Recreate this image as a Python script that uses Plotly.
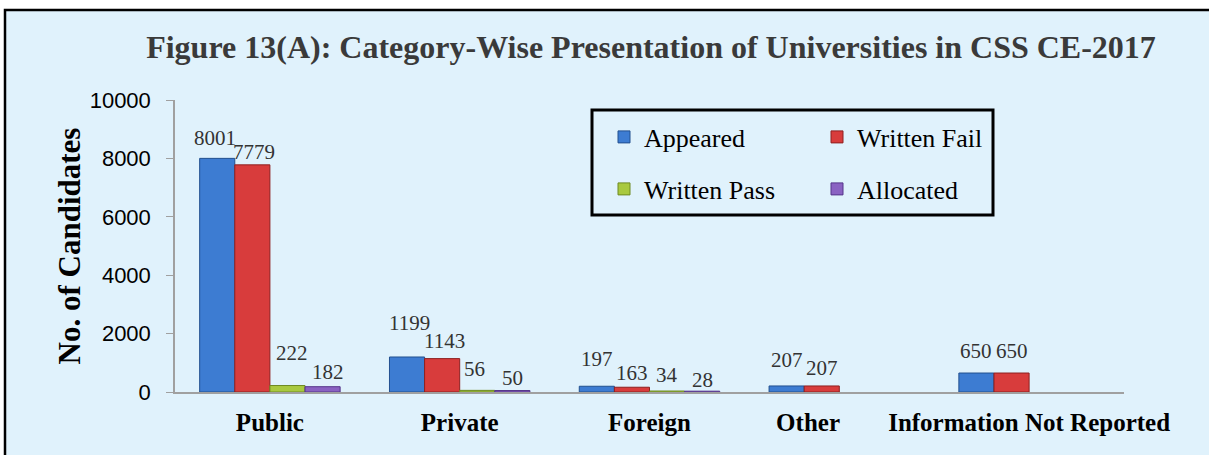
import plotly.graph_objects as go

categories = ["Public", "Private", "Foreign", "Other", "Information Not Reported"]
appeared = [8001, 1199, 197, 207, 650]
written_fail = [7779, 1143, 163, 207, 650]
written_pass = [222, 56, 34, 0, 0]
allocated = [182, 50, 28, 0, 0]
y_ticks = [0, 2000, 4000, 6000, 8000, 10000]

# extra vertical lift (px) of each value label, as staggered in the original
label_lift = {
    "Appeared": [9, 23, 16, 15, 11],
    "Written Fail": [2, 7, 3, 7, 11],
    "Written Pass": [22, 10, 5, 0, 0],
    "Allocated": [4, 2, 0, 0, 0],
}
label_xshift = {
    "Appeared": [-2, 2, 0, 0, 0],
    "Written Fail": [2, 2, 0, 0, 0],
    "Written Pass": [5, -3, 0, 0, 0],
    "Allocated": [5, 0, 0, 0, 0],
}

series = [
    ("Appeared", appeared, "#3D7CD2", "#22508F", "legend"),
    ("Written Fail", written_fail, "#D83C3C", "#8E2020", "legend"),
    ("Written Pass", written_pass, "#A9C93F", "#6E8A22", "legend2"),
    ("Allocated", allocated, "#8A62C2", "#55358A", "legend2"),
]

serif = "Liberation Serif, Times New Roman, serif"
W, H = 1209, 455
L, R, T, B = 175, 85, 100, 63
PW, PH = W - L - R, H - T - B
BARGAP = 0.26
cat_px = PW / len(categories)
bar_px = cat_px * (1 - BARGAP) / len(series)

fig = go.Figure()
annotations = []
for i, (name, vals, col, lcol, lg) in enumerate(series):
    fig.add_trace(go.Bar(
        name=name, x=categories, y=vals,
        marker=dict(color=col, line=dict(color=lcol, width=[1 if v else 0 for v in vals])),
        legend=lg, hoverinfo="x+y+name",
    ))
    off = (i - (len(series) - 1) / 2) * bar_px
    for j, (c, v) in enumerate(zip(categories, vals)):
        if not v:
            continue
        annotations.append(dict(
            x=c, y=v, xref="x", yref="y", text=str(v), showarrow=False,
            xanchor="center", yanchor="bottom",
            xshift=off + label_xshift[name][j], yshift=-3 + label_lift[name][j],
            font=dict(family=serif, size=21, color="#333333"),
        ))


def px(x):
    return (x - L) / PW


def py(y):
    return (H - B - y) / PH


legend_common = dict(orientation="h", x=px(604), xanchor="left", yanchor="middle",
                     entrywidth=168, entrywidthmode="pixels",
                     font=dict(family=serif, size=26, color="black"),
                     bgcolor="rgba(0,0,0,0)", borderwidth=0)

fig.update_layout(
    width=W, height=H,
    margin=dict(l=L, r=R, t=T, b=B, autoexpand=False),
    paper_bgcolor="white", plot_bgcolor="rgba(0,0,0,0)",
    barmode="group", bargap=BARGAP, bargroupgap=0,
    title=dict(text="<b>Figure 13(A): Category-Wise Presentation of Universities in CSS CE-2017</b>",
               x=651 / W, xanchor="center", xref="container",
               y=1 - 47 / H, yanchor="middle", yref="container",
               font=dict(family=serif, size=32, color="#3A3A3A")),
    legend=dict(y=py(137), **legend_common),
    legend2=dict(y=py(189), **legend_common),
    showlegend=True,
    annotations=annotations,
    shapes=[
        dict(type="rect", xref="paper", yref="paper",
             x0=px(5), x1=px(1215), y0=py(470), y1=py(10),
             fillcolor="#E0F2FC", line=dict(color="black", width=2.5), layer="below"),
        dict(type="rect", xref="paper", yref="paper",
             x0=px(592), x1=px(993), y0=py(215), y1=py(110),
             fillcolor="rgba(0,0,0,0)", line=dict(color="black", width=3)),
    ],
)
tick_text = ["<b>%s</b>" % c for c in categories]
tick_text[3] = "<b>Other</b>" + "\u00a0" * 10
fig.update_xaxes(
    showline=True, linecolor="#A0A0A0", linewidth=2, showgrid=False,
    tickfont=dict(family=serif, size=25, color="black"),
    ticks="", ticklabelstandoff=7, tickangle=0,
    tickvals=categories, ticktext=tick_text,
)
fig.update_yaxes(
    range=[0, 10000], tickvals=y_ticks, ticktext=[str(t) for t in y_ticks],
    showgrid=False, zeroline=False,
    showline=True, linecolor="#A0A0A0", linewidth=1.5,
    ticks="outside", ticklen=7, tickcolor="#A0A0A0", ticklabelstandoff=11,
    tickfont=dict(family="Liberation Sans, Arial, sans-serif", size=22, color="black"),
    title=dict(text="<b>No. of Candidates</b>", standoff=0,
               font=dict(family=serif, size=31, color="black")),
)
fig.write_html("out.html", post_script="document.body.style.margin='0';",
               config={"displayModeBar": False})
